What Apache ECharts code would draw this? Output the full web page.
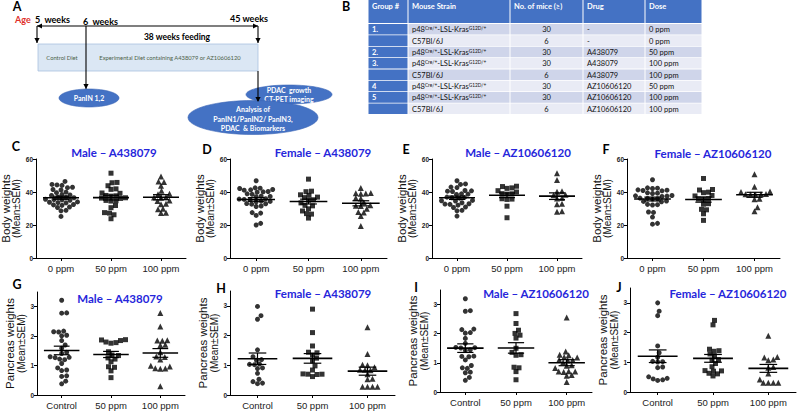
<!DOCTYPE html>
<html lang="en">
<head>
<meta charset="UTF-8" />
<title>Body and pancreas weights</title>
<script src="https://cdn.jsdelivr.net/npm/echarts@6/dist/echarts.min.js"></script>
<style>html,body{margin:0;padding:0;background:#fff}</style>
</head>
<body>
<div id="chart" style="width:799px;height:412px"></div>
<script>
// x categories
var doseCats = ['0 ppm', '50 ppm', '100 ppm'];
var pancCats = ['Control', '50 ppm', '100 ppm'];

// body weights, one list per group
var bodyMaleA = [
  [46.4, 44.6, 44.3, 44.0, 42.9, 42.6, 41.5, 41.2, 39.9, 39.6, 38.4, 38.2, 37.9, 36.9, 36.7, 36.5, 35.6, 35.4, 35.2, 35.0, 34.0, 33.8, 33.6, 33.4, 32.4, 32.2, 31.9, 30.9, 30.6, 28.9, 28.6, 25.2],
  [51.4, 45.8, 45.6, 43.8, 41.9, 41.6, 39.4, 39.2, 37.9, 37.7, 37.5, 36.5, 36.3, 36.1, 34.9, 34.7, 34.5, 31.8, 30.5, 27.5, 27.2, 26.2, 23.8],
  [49.4, 46.3, 46.0, 43.8, 40.8, 38.9, 38.7, 36.9, 36.7, 36.5, 34.9, 34.6, 32.9, 32.6, 29.9, 29.6, 27.5, 27.2]
];
var bodyFemaleA = [
  [46.8, 42.5, 42.3, 42.1, 41.5, 41.3, 41.1, 40.3, 40.1, 39.9, 38.9, 38.6, 37.5, 37.3, 37.1, 35.9, 35.7, 35.5, 35.3, 34.5, 34.3, 34.1, 33.0, 32.9, 32.6, 31.5, 31.2, 27.5, 27.2, 25.8, 21.0, 20.0],
  [47.8, 40.5, 40.2, 38.3, 38.0, 36.9, 36.6, 35.3, 35.0, 33.4, 31.9, 31.6, 29.8, 28.5, 26.9, 26.6, 24.2],
  [42.4, 39.4, 39.2, 39.1, 38.9, 36.3, 36.0, 33.8, 31.9, 31.7, 31.5, 29.8, 27.9, 27.6, 25.4, 19.4]
];
var bodyMaleAZ = [
  [46.8, 44.9, 44.6, 43.0, 42.7, 40.9, 40.7, 40.5, 40.3, 38.9, 38.7, 38.5, 36.9, 36.7, 36.5, 36.3, 34.9, 34.7, 34.5, 33.5, 32.9, 32.7, 32.5, 32.0, 30.9, 30.6, 28.9, 28.6, 25.4],
  [43.5, 43.3, 42.5, 42.2, 40.8, 40.0, 39.0, 38.9, 38.7, 35.9, 35.7, 35.5, 31.4, 24.4],
  [51.4, 47.2, 40.5, 40.2, 38.3, 38.0, 36.3, 36.0, 32.9, 32.6, 28.3, 28.0]
];
var bodyFemaleAZ = [
  [47.4, 42.5, 42.3, 42.1, 41.3, 41.1, 40.9, 40.7, 39.5, 39.3, 39.1, 37.9, 37.7, 37.5, 37.3, 36.3, 36.1, 35.9, 35.7, 34.5, 34.3, 34.1, 32.5, 32.3, 32.1, 27.9, 27.6, 24.8, 21.0, 20.5],
  [48.2, 41.5, 41.2, 39.9, 39.6, 37.9, 37.6, 35.9, 35.7, 35.5, 32.9, 32.6, 29.5, 29.2, 26.8, 22.8],
  [50.8, 43.2, 40.3, 40.0, 38.8, 38.7, 38.6, 38.5, 38.4, 35.9, 35.6, 30.8, 28.4]
];

// pancreas weights
var pancMaleA = [
  [3.22, 2.79, 2.78, 2.17, 2.15, 2.14, 2.03, 2.01, 1.85, 1.70, 1.59, 1.45, 1.41, 1.30, 1.28, 1.27, 1.22, 1.20, 1.07, 0.92, 0.85, 0.83, 0.65, 0.63, 0.47, 0.38],
  [1.88, 1.87, 1.85, 1.80, 1.78, 1.76, 1.47, 1.36, 1.34, 1.26, 1.22, 1.13, 0.96, 0.94, 0.82, 0.59],
  [2.79, 2.33, 1.86, 1.85, 1.84, 1.71, 1.69, 1.45, 1.31, 1.29, 1.21, 0.99, 0.97, 0.91, 0.90, 0.89, 0.30]
];
var pancFemaleA = [
  [2.98, 2.67, 2.55, 1.52, 1.29, 1.19, 1.17, 1.04, 1.03, 1.02, 0.91, 0.89, 0.73, 0.53, 0.45, 0.40, 0.38],
  [2.89, 2.10, 1.65, 1.44, 1.42, 1.35, 1.24, 1.15, 0.98, 0.84, 0.71, 0.70, 0.70, 0.69, 0.62],
  [2.28, 1.38, 1.02, 1.00, 0.93, 0.85, 0.84, 0.83, 0.70, 0.55, 0.53, 0.28, 0.28, 0.28, 0.28]
];
var pancMaleAZ = [
  [3.20, 2.79, 2.77, 2.16, 2.14, 2.04, 2.02, 1.84, 1.67, 1.53, 1.52, 1.51, 1.45, 1.43, 1.23, 1.22, 1.21, 1.10, 0.91, 0.83, 0.81, 0.68, 0.66, 0.50, 0.40],
  [2.69, 2.35, 2.12, 2.01, 1.95, 1.85, 1.50, 1.36, 1.28, 1.26, 0.85, 0.83, 0.70, 0.42],
  [2.56, 1.39, 1.28, 1.26, 1.20, 1.18, 1.11, 1.10, 1.09, 1.02, 0.92, 0.90, 0.82, 0.71, 0.70, 0.70, 0.69, 0.58, 0.56, 0.34]
];
var pancFemaleAZ = [
  [3.00, 2.72, 2.57, 1.55, 1.32, 1.17, 1.03, 1.02, 1.01, 0.84, 0.82, 0.51, 0.46, 0.44, 0.41, 0.39],
  [2.41, 2.26, 1.44, 1.39, 1.37, 1.28, 1.21, 1.09, 1.07, 0.96, 0.85, 0.72, 0.71, 0.70, 0.63, 0.61, 0.54],
  [1.89, 1.18, 1.16, 1.09, 1.07, 0.84, 0.82, 0.62, 0.42, 0.31, 0.31, 0.31, 0.31]
];

// table B
var tableHead = ['Group #', 'Mouse Strain', 'No. of mice (\u2265)', 'Drug', 'Dose'];
var tableGroup = ['1.', '', '2.', '3.', '', '4', '5', ''];
var tableStrain = ['p48^Cre/+^-LSL-Kras^G12D/+^', 'C57Bl/6J', 'p48^Cre/+^-LSL-Kras^G12D/+^', 'p48^Cre/+^-LSL-Kras^G12D/+^', 'C57Bl/6J',
  'p48^Cre/+^-LSL-Kras^G12D/+^', 'p48^Cre/+^-LSL-Kras^G12D/+^', 'C57Bl/6J'];
var tableMice = ['30', '6', '30', '30', '6', '30', '30', '6'];
var tableDrug = ['-', '-', 'A438079', 'A438079', 'A438079', 'AZ10606120', 'AZ10606120', 'AZ10606120'];
var tableDose = ['0 ppm', '0 ppm', '50 ppm', '100 ppm', '100 ppm', '50 ppm', '100 ppm', '100 ppm'];

var ARIAL = '"Liberation Sans", Arial, sans-serif';
var CAL = 'Lato, "Liberation Sans", sans-serif';
var BLUE = '#4472c4';
var symbols = [['circle', 5], ['rect', 5], ['triangle', 6]];

var panels = [
  { letter: 'C', lx: 16, ly: 146, title: 'Male \u2013 A438079', tx: 114, ty: 152, data: bodyMaleA, cats: doseCats, ymax: 60, ticks: [0, 20, 40, 60], name: 'Body weights', box: [36, 159, 150, 99], gap: 13 },
  { letter: 'D', lx: 207, ly: 149, title: 'Female \u2013 A438079', tx: 323, ty: 152, data: bodyFemaleA, cats: doseCats, ymax: 60, ticks: [0, 20, 40, 60], name: 'Body weights', box: [230, 159, 157, 99], gap: 13 },
  { letter: 'E', lx: 406, ly: 149, title: 'Male \u2013 AZ10606120', tx: 518, ty: 152, data: bodyMaleAZ, cats: doseCats, ymax: 60, ticks: [0, 20, 40, 60], name: 'Body weights', box: [432, 159, 150, 99], gap: 13 },
  { letter: 'F', lx: 606, ly: 149, title: 'Female \u2013 AZ10606120', tx: 713, ty: 153, data: bodyFemaleAZ, cats: doseCats, ymax: 60, ticks: [0, 20, 40, 60], name: 'Body weights', box: [627, 159, 153, 99], gap: 13 },
  { letter: 'G', lx: 17, ly: 284, title: 'Male \u2013 A438079', tx: 120, ty: 298, data: pancMaleA, cats: pancCats, ymax: 3.5, ticks: [0, 1, 2, 3], name: 'Pancreas weights', box: [37, 292, 148, 103], gap: 9 },
  { letter: 'H', lx: 221, ly: 288, title: 'Female \u2013 A438079', tx: 323, ty: 293, data: pancFemaleA, cats: pancCats, ymax: 3.5, ticks: [0, 1, 2, 3], name: 'Pancreas weights', box: [230, 291, 165, 104], gap: 9 },
  { letter: 'I', lx: 416, ly: 287, title: 'Male \u2013 AZ10606120', tx: 536, ty: 293, data: pancMaleAZ, cats: pancCats, ymax: 3.5, ticks: [0, 1, 2, 3], name: 'Pancreas weights', box: [440, 290, 152, 102], gap: 9 },
  { letter: 'J', lx: 619, ly: 287, title: 'Female \u2013 AZ10606120', tx: 728, ty: 293, data: pancFemaleAZ, cats: pancCats, ymax: 3.5, ticks: [0, 1, 2, 3], name: 'Pancreas weights', box: [630, 288, 166, 104], gap: 9 }
];

// simple beeswarm: spread equal-ish values sideways so markers don't overlap
function swarm(vals, pxX, pxY) {
  var idx = vals.map(function (v, i) { return i; }).sort(function (a, b) { return vals[a] - vals[b]; });
  var placed = [], off = [];
  idx.forEach(function (i) {
    var y = vals[i] * pxY, dx = 0;
    for (var k = 0; k < 160; k++) {
      dx = (k % 2 ? 1 : -1) * Math.ceil(k / 2) * 0.5;
      var ok = placed.every(function (p) { var a = p[0] - dx, b = p[1] - y; return a * a + b * b >= 22; });
      if (ok) break;
    }
    placed.push([dx, y]);
    off[i] = dx / pxX;
  });
  return off;
}

function meanSem(arr) {
  var n = arr.length, m = arr.reduce(function (s, v) { return s + v; }, 0) / n;
  var sd = Math.sqrt(arr.reduce(function (s, v) { return s + (v - m) * (v - m); }, 0) / (n - 1));
  return [m, sd / Math.sqrt(n)];
}

function renderBar(params, api) {
  var g = api.value(0), m = api.value(1), s = api.value(2);
  var a = api.coord([g - 0.36, m]), b = api.coord([g + 0.36, m]);
  var t = api.coord([g, m + s]), u = api.coord([g, m - s]);
  var w = api.coord([g + 0.16, m])[0] - api.coord([g, m])[0];
  var st = { stroke: '#000', lineWidth: 1.2 };
  return {
    type: 'group', children: [
      { type: 'line', shape: { x1: a[0], y1: a[1], x2: b[0], y2: b[1] }, style: { stroke: '#000', lineWidth: 1.6 } },
      { type: 'line', shape: { x1: t[0], y1: t[1], x2: u[0], y2: u[1] }, style: st },
      { type: 'line', shape: { x1: t[0] - w, y1: t[1], x2: t[0] + w, y2: t[1] }, style: st },
      { type: 'line', shape: { x1: u[0] - w, y1: u[1], x2: u[0] + w, y2: u[1] }, style: st }
    ]
  };
}

var grids = [], xAxes = [], yAxes = [], series = [], graphic = [];

panels.forEach(function (p, i) {
  var bx = p.box;
  grids.push({ left: bx[0], top: bx[1], width: bx[2], height: bx[3], containLabel: false, outerBoundsMode: 'none' });
  xAxes.push({
    gridIndex: i, type: 'value', min: -0.5, max: 2.5,
    splitLine: { show: false },
    axisLine: { show: true, onZero: false, lineStyle: { color: '#000', width: 1 } },
    axisTick: { show: true, customValues: [0, 1, 2], length: 3, lineStyle: { color: '#000' } },
    axisLabel: {
      customValues: [0, 1, 2], margin: 5, fontSize: 9.5, fontFamily: ARIAL, color: '#222',
      formatter: (function (cats) { return function (v) { return cats[Math.round(v)]; }; })(p.cats)
    }
  });
  yAxes.push({
    gridIndex: i, type: 'value', min: 0, max: p.ymax,
    splitLine: { show: false },
    axisLine: { show: true, onZero: false, lineStyle: { color: '#000', width: 1 } },
    axisTick: { show: true, customValues: p.ticks, length: 3, lineStyle: { color: '#000' } },
    axisLabel: { customValues: p.ticks, margin: 3, fontSize: 6.5, fontWeight: 'bold', fontFamily: ARIAL, color: '#222' },
    name: '{a|' + p.name + '}\n{b|(Mean\u00b1SEM)}',
    nameLocation: 'middle', nameRotate: 90, nameGap: p.gap,
    nameTextStyle: {
      rich: {
        a: { fontSize: 11.5, fontFamily: ARIAL, color: '#111', lineHeight: 11 },
        b: { fontSize: 10, fontFamily: ARIAL, color: '#111', lineHeight: 11 }
      }
    }
  });

  var pxX = bx[2] / 3, pxY = bx[3] / p.ymax;
  var bars = [];
  p.data.forEach(function (vals, g) {
    var off = swarm(vals, pxX, pxY);
    series.push({
      type: 'scatter', xAxisIndex: i, yAxisIndex: i, silent: true,
      symbol: symbols[g][0], symbolSize: symbols[g][1],
      itemStyle: { color: '#000' },
      data: vals.map(function (v, k) { return [g + off[k], v]; })
    });
    var ms = meanSem(vals);
    bars.push([g, ms[0], ms[1]]);
  });
  series.push({
    type: 'custom', xAxisIndex: i, yAxisIndex: i, silent: true, z: 3,
    renderItem: renderBar, data: bars
  });

  graphic.push({ type: 'text', x: p.tx, y: p.ty, style: { text: p.title, fill: '#2626db', fontSize: 11.5, fontWeight: 'bold', fontFamily: CAL, align: 'center', verticalAlign: 'middle' } });
  graphic.push({ type: 'text', x: p.lx, y: p.ly, style: { text: p.letter, fill: '#000', fontSize: 12.5, fontWeight: 'bold', fontFamily: CAL, align: 'center', verticalAlign: 'middle' } });
});

// ---------- panel A: timeline diagram ----------
function txt(s, x, y, o) {
  var st = { text: s, fill: '#000', fontSize: 9, fontWeight: 'bold', fontFamily: CAL, align: 'left', verticalAlign: 'middle' };
  for (var k in o) st[k] = o[k];
  return { type: 'text', x: x, y: y, style: st };
}
function line(x1, y1, x2, y2) {
  return { type: 'line', shape: { x1: x1, y1: y1, x2: x2, y2: y2 }, style: { stroke: '#000', lineWidth: 1.1 } };
}
function head(x, y, dir) {
  var pts = dir === 'down' ? [[x - 2.6, y - 5], [x + 2.6, y - 5], [x, y]]
    : dir === 'left' ? [[x + 5, y - 2.6], [x + 5, y + 2.6], [x, y]]
    : [[x - 5, y - 2.6], [x - 5, y + 2.6], [x, y]];
  return { type: 'polygon', shape: { points: pts }, style: { fill: '#000' } };
}
function oval(cx, cy, rx, ry, lines, ys) {
  var out = [{ type: 'ellipse', shape: { cx: cx, cy: cy, rx: rx, ry: ry }, style: { fill: BLUE, stroke: '#3a65b5', lineWidth: 0.6 } }];
  lines.forEach(function (s, k) {
    out.push(txt(s, cx, ys[k], { fill: '#fff', fontSize: 7, align: 'center' }));
  });
  return out;
}

graphic.push(txt('A', 17, 6, { fontSize: 12.5, align: 'center' }));
graphic.push(txt('Age', 15, 19.5, { fill: '#e0302a', fontSize: 9 }));
graphic.push(txt('5  weeks', 35, 19.5));
graphic.push(txt('6  weeks', 83, 21));
graphic.push(txt('45 weeks', 230, 18.5));
graphic.push(txt('38 weeks feeding', 177, 37, { fontSize: 8.5, align: 'center' }));
graphic.push({ type: 'rect', shape: { x: 38, y: 44, width: 220, height: 27 }, style: { fill: '#dbe7f4', stroke: '#a9c1df', lineWidth: 0.8 } });
graphic.push(txt('Control Diet', 62, 57.5, { fontSize: 5.8, fontWeight: 'normal', fill: '#4d5f49', align: 'center' }));
graphic.push(txt('Experimental Diet containing A438079 or AZ10606120', 170, 57.5, { fontSize: 5.8, fontWeight: 'normal', fill: '#4d5f49', align: 'center' }));
graphic.push(line(37, 26, 258, 26), head(37, 26, 'left'), head(258, 26, 'right'));
graphic.push(line(37, 26, 37, 43), head(37, 43, 'down'));
graphic.push(line(258, 26, 258, 43), head(258, 43, 'down'));
graphic.push(line(86, 26, 86, 89), head(86, 89, 'down'));
graphic = graphic.concat(oval(89, 98, 30, 9, ['PanIN 1,2'], [98]));
graphic = graphic.concat(oval(289, 94.5, 43, 9.5, ['PDAC  growth', 'CT-PET imaging'], [90, 99]));
graphic = graphic.concat(oval(253, 117.5, 65, 17, ['Analysis of', 'PanIN1/PanIN2/ PanIN3,', 'PDAC  & Biomarkers'], [109, 118.5, 128]));
graphic.push(line(258, 71, 258, 101), head(258, 102, 'down'));

// ---------- panel B: table ----------
graphic.push(txt('B', 346, 6, { fontSize: 12.5, align: 'center' }));
var cols = [368, 408, 510, 583, 645, 702];
var rowTop = 24, rowH = 11.35;
tableHead.forEach(function (h, c) {
  graphic.push({ type: 'rect', shape: { x: cols[c] + 0.5, y: 0, width: cols[c + 1] - cols[c] - 1, height: 23 }, style: { fill: BLUE } });
  graphic.push(txt(h, cols[c] + 4, 6.5, { fill: '#fff', fontSize: 7.5 }));
});
function richStrain(s) {
  return s.split('^').map(function (part, k) { return part ? (k % 2 ? '{s|' + part + '}' : '{n|' + part + '}') : ''; }).join('');
}
tableGroup.forEach(function (g, r) {
  var y = rowTop + r * rowH, cy = y + rowH / 2;
  var fill = r % 2 ? '#e9ebf5' : '#cfd5ea';
  for (var c = 0; c < 5; c++) {
    graphic.push({ type: 'rect', shape: { x: cols[c] + 0.5, y: y, width: cols[c + 1] - cols[c] - 1, height: rowH - 0.8 }, style: { fill: c === 0 ? BLUE : fill } });
  }
  if (g) graphic.push(txt(g, cols[0] + 4, cy, { fill: '#fff', fontSize: 7.5 }));
  graphic.push({
    type: 'text', x: cols[1] + 4, y: cy - 5.5,
    style: {
      text: richStrain(tableStrain[r]), fill: '#111', fontFamily: CAL, fontSize: 7.5, align: 'left', verticalAlign: 'top',
      rich: {
        n: { fontSize: 7.5, fontFamily: CAL, fill: '#111', lineHeight: 11, verticalAlign: 'middle' },
        s: { fontSize: 4.8, fontFamily: CAL, fill: '#111', lineHeight: 11, verticalAlign: 'top', padding: [1.5, 0, 0, 0] }
      }
    }
  });
  graphic.push(txt(tableMice[r], (cols[2] + cols[3]) / 2, cy, { fill: '#111', fontSize: 7.5, fontWeight: 'normal', align: 'center' }));
  graphic.push(txt(tableDrug[r], cols[3] + 4, cy, { fill: '#111', fontSize: 7.5, fontWeight: 'normal' }));
  graphic.push(txt(tableDose[r], cols[4] + 4, cy, { fill: '#111', fontSize: 7.5, fontWeight: 'normal' }));
});

var myChart = echarts.init(document.getElementById('chart'), null, { renderer: 'svg' });
myChart.setOption({
  animation: false,
  backgroundColor: '#fff',
  grid: grids,
  xAxis: xAxes,
  yAxis: yAxes,
  series: series,
  graphic: { elements: graphic }
});
</script>
</body>
</html>
